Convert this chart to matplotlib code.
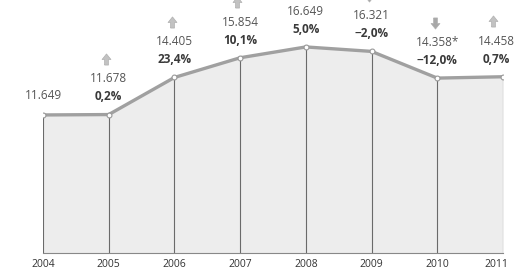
import matplotlib
matplotlib.use("Agg")
import matplotlib.pyplot as plt
from matplotlib.transforms import offset_copy, ScaledTranslation

years = [2004, 2005, 2006, 2007, 2008, 2009, 2010, 2011]
values = [11.649, 11.678, 14.405, 15.854, 16.649, 16.321, 14.358, 14.458]
value_labels = ["11.649", "11.678", "14.405", "15.854", "16.649", "16.321", "14.358*", "14.458"]
changes = [None, "0,2%", "23,4%", "10,1%", "5,0%", "\u22122,0%", "\u221212,0%", "0,7%"]
up = [None, True, True, True, True, False, False, True]

plt.rcParams['font.family'] = ['Open Sans', 'DejaVu Sans']

# block arrow shape for the little up/down markers
arrow_up = [(-0.35, -1), (0.35, -1), (0.35, 0), (0.8, 0), (0, 1), (-0.8, 0), (-0.35, 0), (-0.35, -1)]
arrow_down = [(x, -y) for x, y in arrow_up]

fig = plt.figure(figsize=(5.22, 2.71), dpi=100)
ax = fig.add_axes([43/522, 1-253/271, 460/522, 253/271])

ax.fill_between(years, values, 0, color='#ededed', zorder=1)
ax.vlines(years, 0, values, color='#6a6a6a', lw=0.8, zorder=2)
ax.plot(years, values, color='#a0a0a0', lw=2.4, zorder=3,
        marker='o', ms=3.5, mfc='white', mec='#999999', mew=0.8)

ax.set_xlim(2004, 2011)
ax.set_ylim(1.5, 20.1)

for i, (x, v) in enumerate(zip(years, values)):
    dx = -5 if i == len(years)-1 else 0
    if changes[i] is None:
        ax.annotate(value_labels[i], (x, v), xytext=(dx, 9), textcoords='offset points',
                    ha='center', va='bottom', fontsize=8.5, color='#555555')
        continue
    ax.annotate(changes[i], (x, v), xytext=(dx, 8), textcoords='offset points',
                ha='center', va='bottom', fontsize=8.5, fontweight='bold', color='#3a3a3a')
    ax.annotate(value_labels[i], (x, v), xytext=(dx, 21), textcoords='offset points',
                ha='center', va='bottom', fontsize=8.5, color='#555555')
    trans = offset_copy(ax.transData, fig=fig, x=dx - 2, y=40, units='points')
    ax.plot([x], [v], transform=trans, clip_on=False, ls='none',
            marker=arrow_up if up[i] else arrow_down, ms=8,
            mfc='#c2c2c2' if up[i] else '#a8a8a8', mec='#b0b0b0', mew=0.5, zorder=4)

for s in ['top', 'right', 'left']:
    ax.spines[s].set_visible(False)
ax.spines['bottom'].set_color('#888888')
ax.spines['bottom'].set_linewidth(0.8)
ax.set_yticks([])
ax.set_xticks(years)
ax.set_xticklabels([str(y) for y in years], fontsize=7.5, color='#333333')
ax.tick_params(axis='x', length=0, pad=4)
last = ax.get_xticklabels()[-1]
last.set_transform(last.get_transform() + ScaledTranslation(-5/72, 0, fig.dpi_scale_trans))

fig.savefig('out.png', dpi=100)
